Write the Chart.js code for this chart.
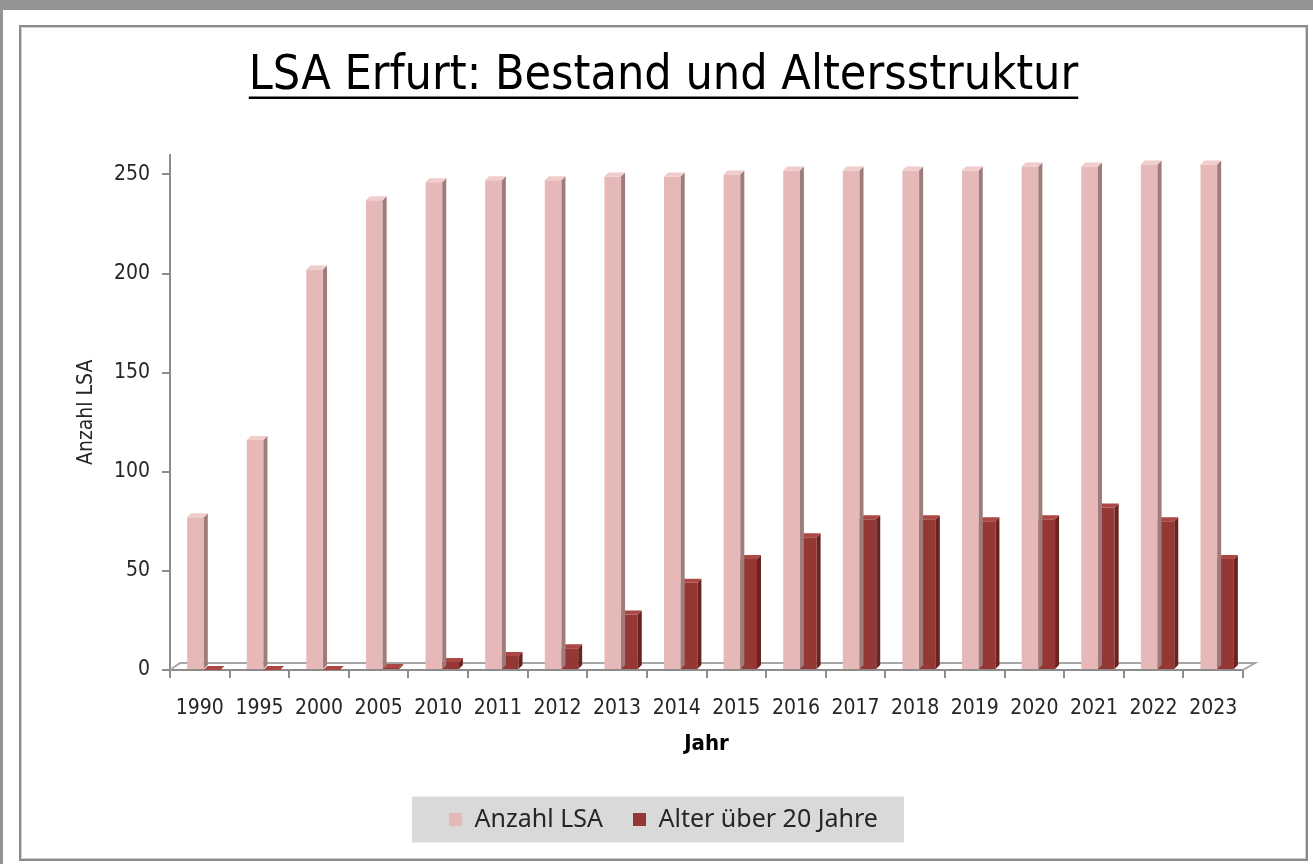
<!DOCTYPE html>
<html lang="de">
<head>
<meta charset="utf-8">
<title>LSA Erfurt</title>
<script src="https://cdn.jsdelivr.net/npm/chart.js@4.4.1/dist/chart.umd.min.js"></script>
<style>
  html, body { margin: 0; padding: 0; background: #fff; width: 1313px; height: 864px; overflow: hidden; }
  .balken-oben { position: absolute; left: 0; top: 0; width: 1313px; height: 10px; background: #949494; }
  .balken-links { position: absolute; left: 0; top: 0; width: 3px; height: 864px; background: #949494; }
  .rahmen {
    position: absolute; left: 19px; top: 25px; width: 1289px; height: 836px;
    box-sizing: border-box; border: 2px solid #8a8a8a; box-shadow: inset 0 0 0 1px #cfcfcf;
  }
  .diagramm { position: absolute; left: 22px; top: 28px; width: 1283px; height: 830px; }
</style>
</head>
<body>
<div class="balken-oben"></div>
<div class="balken-links"></div>
<div class="rahmen"></div>
<div class="diagramm"><canvas id="canvasLSA"></canvas></div>

<script>
// Daten
const jahre = ['1990', '1995', '2000', '2005', '2010', '2011', '2012', '2013', '2014',
               '2015', '2016', '2017', '2018', '2019', '2020', '2021', '2022', '2023'];
const anzahlLSA = [77, 116, 202, 237, 246, 247, 247, 249, 249, 250, 252, 252, 252, 252, 254, 254, 255, 255];
const alterUeber20 = [0, 0, 0, 1, 4, 7, 11, 28, 44, 56, 67, 76, 76, 75, 76, 82, 75, 56];
const achsenWerte = [0, 50, 100, 150, 200, 250];

const schrift = '"Liberation Sans Narrow", "DejaVu Sans Condensed", sans-serif';
const tiefe = 4;

// Seiten- und Deckflaechen fuer den 3D-Eindruck
const saeulen3D = {
    id: 'saeulen3D',
    beforeDatasetsDraw(chart) {
        const { ctx, chartArea } = chart;
        ctx.save();
        ctx.strokeStyle = '#a6a6a6';
        ctx.lineWidth = 2;
        ctx.beginPath();
        ctx.moveTo(chartArea.left, chartArea.bottom);
        ctx.lineTo(chartArea.left + 10, chartArea.bottom - 7);
        ctx.lineTo(chartArea.right + 12, chartArea.bottom - 7);
        ctx.lineTo(chartArea.right, chartArea.bottom);
        ctx.stroke();
        ctx.restore();
        // Frontflaechen leicht nach rechts versetzt wie in der Vorlage
        ctx.save();
        ctx.translate(4, 0);
    },
    afterDatasetsDraw(chart) {
        chart.ctx.restore();
    },
    afterDatasetDraw(chart, args) {
        const ds = chart.data.datasets[args.index];
        const { ctx } = chart;
        ctx.save();
        args.meta.data.forEach(bar => {
            const r = bar.x + bar.width / 2;
            const l = bar.x - bar.width / 2;
            ctx.fillStyle = ds.seitenFarbe;
            ctx.beginPath();
            ctx.moveTo(r, bar.y);
            ctx.lineTo(r + tiefe, bar.y - tiefe);
            ctx.lineTo(r + tiefe, bar.base - tiefe);
            ctx.lineTo(r, bar.base);
            ctx.closePath();
            ctx.fill();
            ctx.fillStyle = ds.deckFarbe;
            ctx.beginPath();
            ctx.moveTo(l, bar.y);
            ctx.lineTo(l + tiefe, bar.y - tiefe);
            ctx.lineTo(r + tiefe, bar.y - tiefe);
            ctx.lineTo(r, bar.y);
            ctx.closePath();
            ctx.fill();
        });
        ctx.restore();
    }
};

// Unterstrichener Titel und grauer Legendenhintergrund
const titelUndLegende = {
    id: 'titelUndLegende',
    beforeDraw(chart) {
        const lg = chart.legend;
        if (!lg || !lg.legendHitBoxes.length) return;
        const boxes = lg.legendHitBoxes;
        const links = Math.min(...boxes.map(b => b.left)) - 37;
        const rechts = Math.max(...boxes.map(b => b.left + b.width)) + 26;
        const mitte = boxes[0].top + boxes[0].height / 2;
        const { ctx } = chart;
        ctx.save();
        ctx.fillStyle = '#d9d9d9';
        ctx.fillRect(links, mitte - 23, rechts - links, 46);
        ctx.restore();
    },
    afterDraw(chart) {
        const t = chart.titleBlock;
        const { ctx } = chart;
        ctx.save();
        ctx.font = '48px ' + schrift;
        const breite = ctx.measureText(chart.options.plugins.title.text).width;
        const mitteX = (t.left + t.right) / 2;
        const y = t.top + chart.options.plugins.title.padding.top + 48 * 1.2 / 2 + 21;
        ctx.strokeStyle = '#000';
        ctx.lineWidth = 2.5;
        ctx.beginPath();
        ctx.moveTo(mitteX - breite / 2, y);
        ctx.lineTo(mitteX + breite / 2, y);
        ctx.stroke();
        ctx.restore();
    }
};

new Chart(document.getElementById('canvasLSA').getContext('2d'), {
    type: 'bar',
    data: {
        labels: jahre,
        datasets: [
            {
                label: 'Anzahl LSA',
                data: anzahlLSA,
                backgroundColor: '#e6b9b8',
                seitenFarbe: '#9e7c7b',
                deckFarbe: '#f0cccb',
                borderWidth: 0,
                barPercentage: 1,
                categoryPercentage: 0.56
            },
            {
                label: 'Alter über 20 Jahre',
                data: alterUeber20,
                backgroundColor: '#953735',
                seitenFarbe: '#6a2321',
                deckFarbe: '#ad4744',
                borderWidth: 0,
                barPercentage: 1,
                categoryPercentage: 0.56
            }
        ]
    },
    options: {
        responsive: true,
        maintainAspectRatio: false,
        animation: false,
        layout: { padding: { left: 0, right: 0, top: 0, bottom: 16 } },
        scales: {
            x: {
                grid: { display: true, drawOnChartArea: false, color: '#8c8c8c', lineWidth: 2, tickLength: 8, offset: true },
                border: { display: true, color: '#8c8c8c', width: 2 },
                ticks: { color: '#262626', font: { family: schrift, size: 21 }, padding: 18, maxRotation: 0 },
                title: { display: true, text: 'Jahr', color: '#000', font: { family: schrift, size: 22, weight: 'bold' }, padding: { top: 0, bottom: 20 } },
                afterFit(scale) { scale.height = 107; }
            },
            y: {
                min: 0,
                max: 260,
                ticks: { color: '#262626', font: { family: schrift, size: 21 }, padding: 12 },
                grid: { display: true, drawOnChartArea: false, color: '#8c8c8c', lineWidth: 2, tickLength: 8 },
                border: { display: true, color: '#8c8c8c', width: 2 },
                title: { display: true, text: 'Anzahl LSA', color: '#262626', font: { family: schrift, size: 21 }, padding: { top: 52, bottom: 0 } },
                afterBuildTicks(scale) { scale.ticks = achsenWerte.map(v => ({ value: v })); },
                afterFit(scale) { scale.width = 148; }
            },
            rechts: {
                type: 'linear',
                position: 'right',
                grid: { display: false },
                border: { display: false },
                ticks: { display: false },
                afterFit(scale) { scale.width = 62; }
            }
        },
        plugins: {
            title: {
                display: true,
                text: 'LSA Erfurt: Bestand und Altersstruktur',
                color: '#000',
                font: { family: schrift, size: 48, weight: 'normal' },
                padding: { top: 20, bottom: 49 }
            },
            legend: {
                position: 'bottom',
                labels: {
                    boxWidth: 13,
                    boxHeight: 13,
                    padding: 30,
                    color: '#262626',
                    font: { family: '"Noto Sans", sans-serif', size: 25 }
                }
            },
            tooltip: { enabled: false }
        }
    },
    plugins: [saeulen3D, titelUndLegende]
});
</script>
</body>
</html>
